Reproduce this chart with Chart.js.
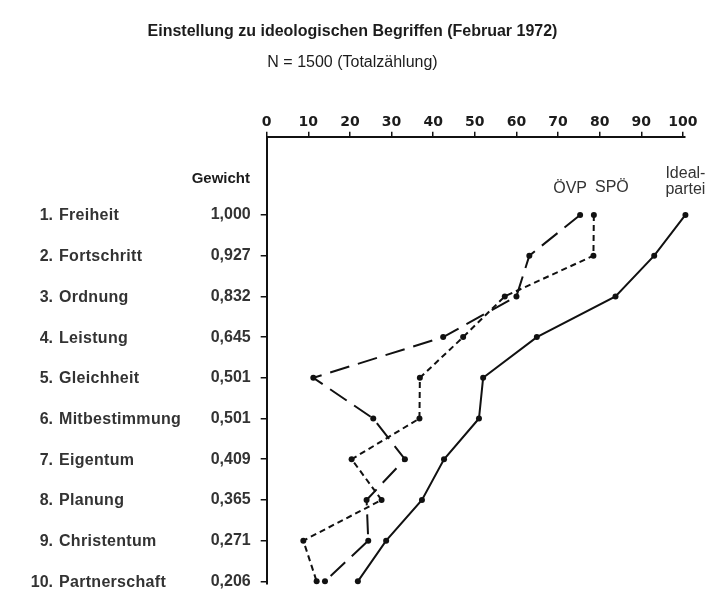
<!DOCTYPE html>
<html>
<head>
<meta charset="utf-8">
<script src="https://cdn.jsdelivr.net/npm/chart.js@4.4.1/dist/chart.umd.min.js"></script>
<style>
  html, body { margin: 0; background: #fff; }
</style>
</head>
<body>
<canvas id="chart" width="720" height="603"></canvas>
<script>
// Einstellung zu ideologischen Begriffen, Februar 1972 (N = 1500)
const begriffe = ["Freiheit", "Fortschritt", "Ordnung", "Leistung", "Gleichheit",
  "Mitbestimmung", "Eigentum", "Planung", "Christentum", "Partnerschaft"];
const gewicht = ["1,000", "0,927", "0,832", "0,645", "0,501", "0,501", "0,409", "0,365", "0,271", "0,206"];
const oevp = [75.3, 63.1, 60.0, 42.4, 11.2, 25.6, 33.2, 24.0, 24.4, 14.0];
const spoe = [78.6, 78.5, 57.2, 47.2, 36.8, 36.7, 20.4, 27.6, 8.8, 12.0];
const ideal = [100.6, 93.1, 83.8, 64.9, 52.0, 51.0, 42.6, 37.3, 28.7, 21.9];
const xTicks = [0, 10, 20, 30, 40, 50, 60, 70, 80, 90, 100];

const INK = "#1c1c1c";
const ROW = "#333";
const SANS = '"Liberation Sans", Arial, sans-serif';

const toPoints = vals => vals.map((v, i) => ({ x: v, y: i }));

function series(label, vals, dash) {
  return {
    label,
    data: toPoints(vals),
    borderColor: "#111",
    backgroundColor: "#111",
    borderWidth: 2,
    borderDash: dash,
    pointRadius: 3,
    pointBorderWidth: 0,
    tension: 0,
    clip: false,
  };
}

// names column, header and series labels
const textPlugin = {
  id: "texts",
  afterDraw(chart) {
    const ctx = chart.ctx;
    const y = chart.scales.y;
    ctx.save();
    ctx.fillStyle = ROW;
    ctx.textBaseline = "middle";
    ctx.font = "bold 16px " + SANS;
    begriffe.forEach((b, i) => {
      const py = y.getPixelForValue(i) + 1;
      ctx.textAlign = "right";
      ctx.fillText((i + 1) + ".", 53, py);
      ctx.textAlign = "left";
      ctx.letterSpacing = "0.3px";
      ctx.fillText(b, 59, py);
      ctx.letterSpacing = "0px";
    });
    ctx.fillStyle = INK;
    ctx.font = "bold 15px " + SANS;
    ctx.textAlign = "right";
    ctx.fillText("Gewicht", 250, y.getPixelForValue(-0.885));

    ctx.fillStyle = ROW;
    ctx.font = "16px " + SANS;
    ctx.textAlign = "center";
    const p0 = chart.getDatasetMeta(0).data[0];
    const p1 = chart.getDatasetMeta(1).data[0];
    const p2 = chart.getDatasetMeta(2).data[0];
    ctx.fillText("ÖVP", p0.x - 10, p0.y - 26);
    ctx.fillText("SPÖ", p1.x + 18, p1.y - 27);
    ctx.fillText("Ideal-", p2.x, p2.y - 41);
    ctx.fillText("partei", p2.x, p2.y - 25);
    ctx.restore();
  },
};

new Chart(document.getElementById("chart"), {
  type: "line",
  data: {
    datasets: [
      series("ÖVP", oevp, [20, 9]),
      series("SPÖ", spoe, [6, 4]),
      series("Idealpartei", ideal, []),
    ],
  },
  options: {
    responsive: false,
    animation: false,
    layout: { padding: { left: 20, right: 35, top: 0, bottom: 12 } },
    plugins: {
      legend: { display: false },
      tooltip: { enabled: false },
      title: {
        display: true,
        text: "Einstellung zu ideologischen Begriffen (Februar 1972)",
        color: INK,
        font: { family: SANS, size: 16, weight: "bold" },
        padding: { top: 22, bottom: 12 },
      },
      subtitle: {
        display: true,
        text: "N = 1500 (Totalzählung)",
        color: INK,
        font: { family: SANS, size: 16 },
        padding: { top: 0, bottom: 0 },
      },
    },
    scales: {
      x: {
        type: "linear",
        position: "top",
        min: 0,
        max: 100.5,
        afterBuildTicks: s => { s.ticks = xTicks.map(v => ({ value: v })); },
        afterFit: s => { s.height = 64.4; },
        grid: { drawOnChartArea: false, drawTicks: true, tickLength: 5, color: "#111", lineWidth: 1.5 },
        border: { display: true, color: "#111", width: 2 },
        ticks: {
          color: INK,
          padding: 1,
          maxRotation: 0,
          font: { family: '"DejaVu Sans", sans-serif', size: 14, weight: "bold" },
        },
      },
      y: {
        type: "linear",
        reverse: true,
        min: -1.92,
        max: 9.05,
        afterBuildTicks: s => { s.ticks = gewicht.map((g, i) => ({ value: i })); },
        afterFit: s => { s.width = 246.7; },
        grid: { drawOnChartArea: false, drawTicks: true, tickLength: 6, color: "#111", lineWidth: 1.5 },
        border: { display: true, color: "#111", width: 2 },
        ticks: {
          color: ROW,
          padding: 10,
          font: { family: SANS, size: 16, weight: "bold" },
          callback: v => gewicht[v] ?? "",
        },
      },
    },
  },
  plugins: [textPlugin],
});
</script>
</body>
</html>
